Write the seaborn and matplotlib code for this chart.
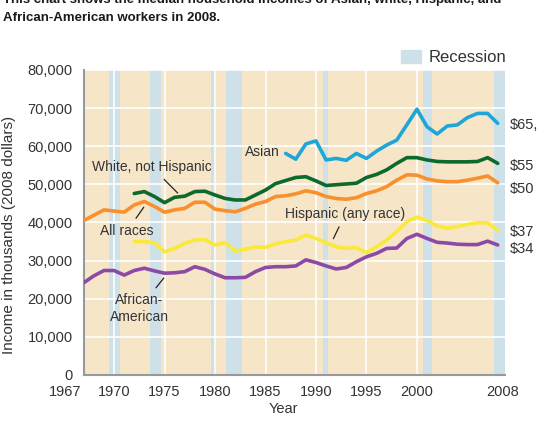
import numpy as np
import pandas as pd
import matplotlib
matplotlib.use("Agg")
import matplotlib.pyplot as plt
import matplotlib.transforms as mtransforms
from matplotlib.patches import Patch
import seaborn as sns

# median household income, thousands of 2008 dollars
years = list(range(1967, 2009))

all_races = [40.5, 41.9, 43.3, 43.0, 42.7, 44.6, 45.5, 44.2, 42.7, 43.3,
             43.7, 45.3, 45.3, 43.5, 43.1, 42.8, 43.7, 44.8, 45.5, 46.8,
             47.0, 47.5, 48.3, 47.8, 46.8, 46.3, 46.1, 46.5, 47.6, 48.3,
             49.4, 51.1, 52.5, 52.4, 51.4, 50.9, 50.7, 50.7, 51.1, 51.6,
             52.2, 50.4]

white_years = list(range(1972, 2009))
white = [47.6, 48.1, 46.8, 45.2, 46.6, 46.9, 48.1, 48.2, 47.2, 46.3,
         45.9, 45.9, 47.2, 48.5, 50.2, 51.0, 51.8, 52.0, 50.9, 49.7,
         49.9, 50.1, 50.3, 51.8, 52.6, 53.8, 55.5, 57.0, 57.0, 56.4,
         56.0, 55.9, 55.9, 55.9, 56.0, 57.0, 55.5]

hispanic_years = list(range(1972, 2009))
hispanic = [35.0, 35.0, 34.7, 32.3, 33.2, 34.5, 35.4, 35.5, 34.1, 34.7,
            32.5, 33.0, 33.6, 33.5, 34.4, 35.0, 35.4, 36.7, 35.8, 34.7,
            33.6, 33.2, 33.4, 32.1, 33.6, 35.4, 37.6, 40.2, 41.4, 40.5,
            39.1, 38.5, 38.9, 39.5, 39.9, 39.9, 38.0]

asian_years = list(range(1987, 2009))
asian = [58.1, 56.6, 60.6, 61.4, 56.4, 56.8, 56.3, 58.1, 56.8, 58.7,
         60.3, 61.6, 65.6, 69.7, 65.1, 63.2, 65.3, 65.6, 67.5, 68.6,
         68.6, 66.0]

black = [24.2, 26.0, 27.4, 27.4, 26.2, 27.4, 28.0, 27.3, 26.7, 26.8,
         27.1, 28.4, 27.7, 26.5, 25.5, 25.5, 25.6, 27.1, 28.2, 28.4,
         28.4, 28.6, 30.2, 29.5, 28.6, 27.8, 28.2, 29.7, 31.0, 31.9,
         33.2, 33.3, 35.8, 36.9, 35.8, 34.8, 34.6, 34.3, 34.2, 34.2,
         35.1, 34.1]

rec_start = [1969.5, 1973.6, 1979.6, 1981.1, 1990.7, 2000.6, 2007.6]
rec_end = [1970.6, 1974.6, 1980.1, 1982.7, 1991.2, 2001.5, 2008.7]

end_labels = ["$65,", "$55", "$50", "$37", "$34"]
end_values = [65.6, 54.8, 48.8, 37.5, 33.0]

xticks = [1967, 1970, 1975, 1980, 1985, 1990, 1995, 2000, 2008]
yticks = list(range(0, 80001, 10000))

frames = []
for name, yrs, vals in [("All races", years, all_races),
                        ("White, not Hispanic", white_years, white),
                        ("Hispanic", hispanic_years, hispanic),
                        ("Asian", asian_years, asian),
                        ("African-American", years, black)]:
    frames.append(pd.DataFrame({"year": yrs, "income": np.array(vals) * 1000, "group": name}))
df = pd.concat(frames, ignore_index=True)

palette = {"All races": "#f7902d", "White, not Hispanic": "#0c6a2c",
           "Hispanic": "#f8e93a", "Asian": "#1fa6d8",
           "African-American": "#8c4aa6"}

sns.set_style("white")
plt.rcParams["font.family"] = ["Liberation Sans", "DejaVu Sans"]
text_col = "#333333"

fig = plt.figure(figsize=(5.37, 4.24), dpi=100)
ax = fig.add_axes([0.156, 0.1156, 0.784, 0.7194])
ax.set_facecolor("#f7e5c8")

for s, e in zip(rec_start, rec_end):
    ax.axvspan(s, e, color="#cfe1e8", lw=0, zorder=0.2)

sns.lineplot(data=df, x="year", y="income", hue="group", palette=palette,
             linewidth=2.6, legend=False, ax=ax, zorder=3)

ax.set_xlim(1967, 2008.7)
ax.set_ylim(0, 80000)
ax.set_xticks(xticks)
ax.set_xticklabels([str(y) for y in xticks])
ax.set_yticks(yticks)
ax.set_yticklabels([f"{v:,}" for v in yticks])
ax.set_axisbelow(True)
ax.grid(True, color="white", lw=1.2, zorder=0.5)
for gl in (ax.get_xgridlines()[0], ax.get_xgridlines()[-1]):
    gl.set_visible(False)
ax.tick_params(length=0, labelsize=10.5, labelcolor=text_col)
ax.tick_params(axis="x", pad=7)
ax.tick_params(axis="y", pad=8)

# first and last year labels sit at the axis ends, as in the original
xlabels = ax.get_xticklabels()
xlabels[0].set_ha("right")
xlabels[0].set_transform(xlabels[0].get_transform() +
                         mtransforms.ScaledTranslation(-2 / 100, 0, fig.dpi_scale_trans))
xlabels[-1].set_transform(xlabels[-1].get_transform() +
                          mtransforms.ScaledTranslation(5 / 100, 0, fig.dpi_scale_trans))

for side in ["top", "right"]:
    ax.spines[side].set_visible(False)
for side in ["left", "bottom"]:
    ax.spines[side].set_color("#999999")
    ax.spines[side].set_linewidth(1.5)

ax.set_xlabel("Year", fontsize=10.5, color=text_col)
ax.set_ylabel("Income in thousands (2008 dollars)", fontsize=11, color=text_col)
ax.xaxis.set_label_coords(0.475, -0.088)
ax.yaxis.set_label_coords(-0.162, 0.46)

ann = dict(fontsize=10, color=text_col, ha="center", va="center")
arrow = dict(arrowstyle="-", color="#222222", lw=0.9)
ax.text(1986.4, 58500, "Asian", **{**ann, "ha": "right"})
ax.annotate("White, not Hispanic", xy=(1976.5, 47200), xytext=(1973.75, 54500),
            arrowprops=arrow, **ann)
ax.annotate("All races", xy=(1973.1, 44600), xytext=(1971.3, 37800),
            arrowprops=arrow, **ann)
ax.annotate("Hispanic (any race)", xy=(1991.6, 35100), xytext=(1992.9, 42200),
            arrowprops=arrow, **ann)
ax.annotate("African-\nAmerican", xy=(1975.1, 26000), xytext=(1972.5, 17400),
            arrowprops=arrow, linespacing=1.25, **ann)

for lab, v in zip(end_labels, end_values):
    ax.text(2009.2, v * 1000, lab, fontsize=10.5, color=text_col,
            ha="left", va="center", clip_on=False)

ax.legend(handles=[Patch(color="#cfe1e8", label="Recession")],
          loc="lower right", bbox_to_anchor=(1.019, 0.994), frameon=False,
          fontsize=12, handlelength=1.2, handleheight=0.8,
          labelcolor=text_col, borderaxespad=0, handletextpad=0.45)

fig.text(0.006, 1 - 21 / 424,
         "This chart shows the median household incomes of Asian, white, Hispanic, and\n"
         "African-American workers in 2008.",
         fontsize=9.5, fontweight="bold", color="#1a1a1a",
         ha="left", va="baseline", linespacing=1.7)

fig.savefig("out.png", dpi=100)
